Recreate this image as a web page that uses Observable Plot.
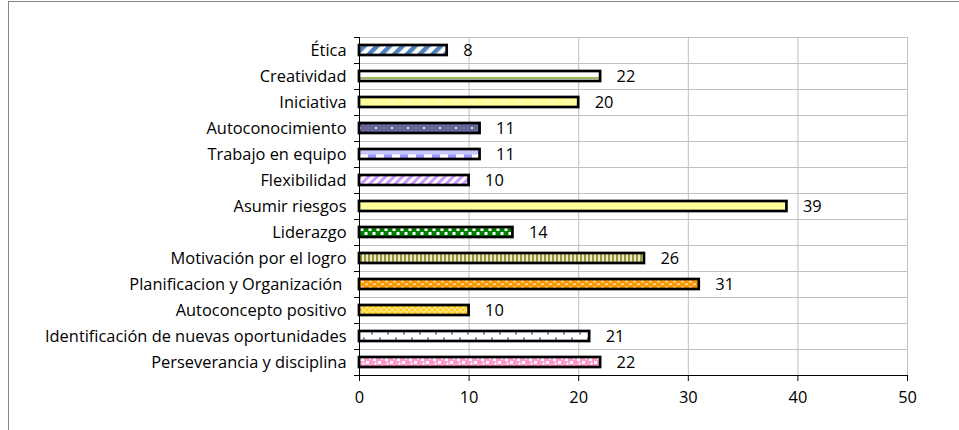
<!DOCTYPE html>
<html><head><meta charset="utf-8">
<script src="https://cdn.jsdelivr.net/npm/d3@7"></script>
<script src="https://cdn.jsdelivr.net/npm/@observablehq/plot@0.6"></script>
<style>
body{margin:0;background:#fff;}
#wrap{position:relative;width:959px;height:430px;overflow:hidden;}
#frame{position:absolute;left:8px;top:1px;width:960px;height:440px;border-left:1px solid #868686;border-top:1px solid #868686;pointer-events:none;}
#wrap svg{position:absolute;left:0;top:0;}
</style></head><body><div id="wrap"><div id="frame"></div></div>
<script>
const categories = ["Ética","Creatividad","Iniciativa","Autoconocimiento","Trabajo en equipo","Flexibilidad","Asumir riesgos","Liderazgo","Motivación por el logro","Planificacion y Organización\u00a0","Autoconcepto positivo","Identificación de nuevas oportunidades","Perseverancia y disciplina"];
const values = [8,22,20,11,11,10,39,14,26,31,10,21,22];
const patternKeys = ["etica","creat","inic","autocon","trabajo","flex","asumir","lider","motiv","planif","autoconc","ident","persev"];
const xTicks = [0,10,20,30,40,50];

const data = categories.map((c,i)=>({category:c, value:values[i], key:patternKeys[i]}));
const last = categories[categories.length-1];
const font = "'Open Sans', sans-serif";
const fs = 16.4;

const plot = Plot.plot({
  width:959, height:430,
  marginLeft:359, marginRight:52, marginTop:37, marginBottom:55,
  style:{fontFamily:font, fontSize:`${fs}px`, color:"#000", background:"transparent", overflow:"visible"},
  x:{domain:[0,50]},
  y:{domain:categories, paddingInner:0.6, paddingOuter:0.3},
  color:{type:"identity"},
  marks:[
    Plot.ruleX(xTicks.slice(1), {stroke:"#c0c0c0", strokeWidth:1}),
    Plot.ruleY(categories, {y:d=>d, dy:-13, stroke:"#c0c0c0", strokeWidth:1}),
    Plot.barX(data, {x:"value", y:"category", fill:d=>`url(#p-${d.key})`, stroke:"#000", strokeWidth:2.7}),
    Plot.ruleX([0], {stroke:"#000", strokeWidth:1}),
    Plot.ruleY([last], {y:d=>d, dy:13, stroke:"#000", strokeWidth:1}),
    Plot.axisY({tickSize:0, tickPadding:13, label:null, fontSize:fs}),
    Plot.axisY({tickSize:5, dy:-13, tickFormat:()=>"", label:null}),
    Plot.axisY([last], {tickSize:5, dy:13, tickFormat:()=>"", label:null}),
    Plot.axisX(xTicks, {tickSize:6, tickPadding:10, label:null, fontSize:fs}),
    Plot.text(data, {x:"value", y:"category", text:d=>String(d.value), textAnchor:"start", dx:16, fontSize:fs, fill:"#000"})
  ]
});

document.getElementById("wrap").appendChild(plot);

// patterns aligned to each bar using the plot's own y scale
const ys = plot.scale("y");
const bw = ys.bandwidth;
function ty(i){ return ys.apply(categories[i]); }
const defs = [];
const idx = k => patternKeys.indexOf(k);
function pat(k, w, h, body, extra=""){
  const y = ty(idx(k));
  defs.push(`<pattern id="p-${k}" patternUnits="userSpaceOnUse" x="0" y="${y}" width="${w}" height="${h}" ${extra}>${body}</pattern>`);
}
pat("etica", 9, 9, `<rect width="9" height="9" fill="#fff"/><rect width="4.5" height="9" fill="#4f81bd"/>`, `patternTransform="rotate(45)"`);
defs.push(`<linearGradient id="p-creat" x1="0" y1="0" x2="0" y2="1"><stop offset="0" stop-color="#fff"/><stop offset="0.6" stop-color="#fff"/><stop offset="0.6" stop-color="#9bbb59"/><stop offset="0.78" stop-color="#9bbb59"/><stop offset="0.78" stop-color="#fff"/><stop offset="1" stop-color="#fff"/></linearGradient>`);
pat("inic", 16, bw, `<rect width="16" height="${bw}" fill="#ffff99"/><rect x="7" y="${bw/2-1}" width="2" height="2" fill="#ffffe6"/>`);
pat("autocon", 16, bw, `<rect width="16" height="${bw}" fill="#666699"/><rect x="7" y="${bw/2-1}" width="2" height="2" fill="#e0e0f0"/>`);
pat("trabajo", 16, bw, `<rect width="16" height="${bw}" fill="#c6c6fb"/><rect y="${bw/2+0.5}" width="8" height="${bw/2}" fill="#9999ff"/><rect x="8" y="${bw/2+0.5}" width="8" height="${bw/2}" fill="#fff"/>`);
pat("flex", 6, 6, `<rect width="6" height="6" fill="#fff"/><rect width="3" height="6" fill="#cc99ff"/>`, `patternTransform="rotate(45)"`);
pat("asumir", 8, 8, `<rect width="8" height="8" fill="#ffff99"/>`);
pat("lider", 8, 8, `<rect width="8" height="8" fill="#008000"/><rect x="0.5" y="1" width="3" height="3" fill="#fff"/><rect x="4.5" y="5" width="3" height="3" fill="#fff"/>`);
pat("motiv", 4, 8, `<rect width="4" height="8" fill="#eaeac8"/><rect width="2" height="8" fill="#999933"/>`);
pat("planif", 8, 6, `<rect width="8" height="6" fill="#ff9900"/><rect x="1" y="1.5" width="3" height="2" fill="#ffe0b0"/><rect x="5" y="4.5" width="3" height="2" fill="#ffe0b0"/>`);
pat("autoconc", 4, 4, `<rect width="4" height="4" fill="#ffcc00"/><rect width="1.2" height="4" fill="#ffe9a0"/><rect width="4" height="1.2" fill="#ffe9a0"/>`, `patternTransform="rotate(45)"`);
pat("ident", 16, bw, `<rect width="16" height="${bw}" fill="#fff"/><rect x="3" y="1.5" width="2" height="2" fill="#4f81bd"/><rect x="11" y="${bw-3.5}" width="2" height="2" fill="#4f81bd"/>`);
pat("persev", 12, 8, `<rect width="12" height="8" fill="#ff99cc"/><rect x="1" y="1" width="3" height="3" fill="#fff"/><rect x="6" y="4" width="3" height="3" fill="#fff"/><rect x="9" y="0.5" width="2" height="2" fill="#fff"/><rect x="2.5" y="5.5" width="2" height="2" fill="#fff"/>`);

const d = d3.select(plot).insert("defs", ":first-child");
d.html(defs.join(""));
</script>
</body></html>
